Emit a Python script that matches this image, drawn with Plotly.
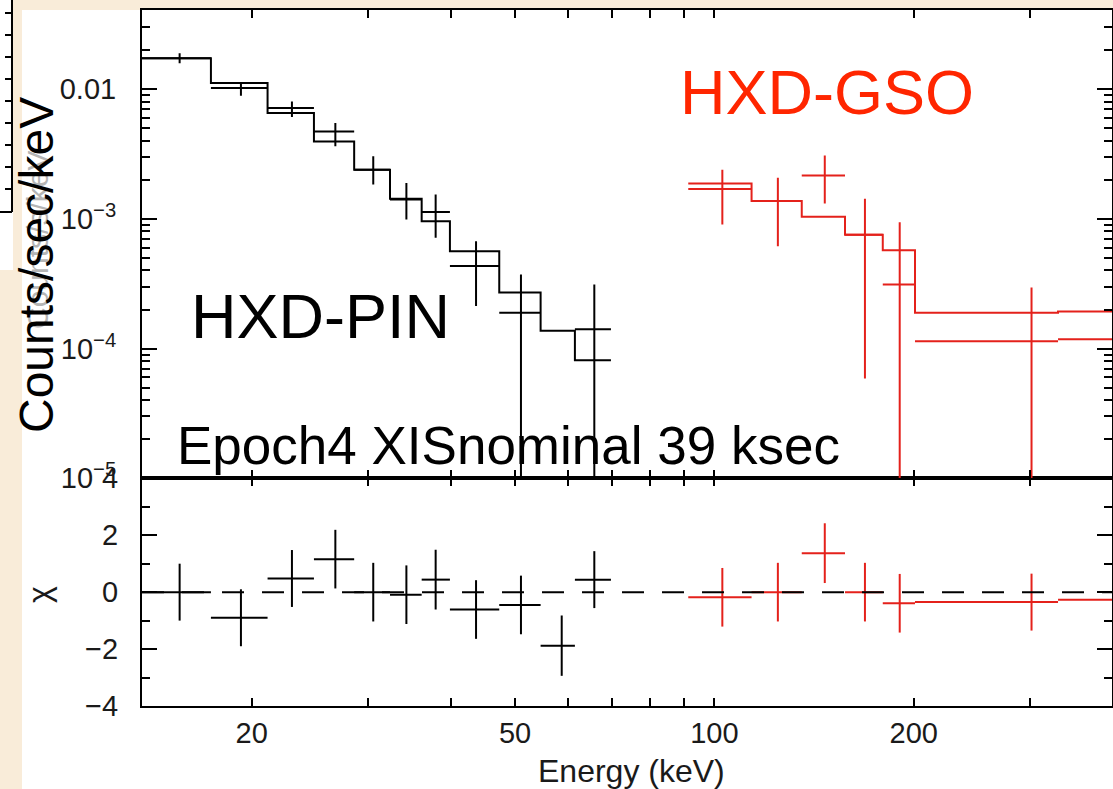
import math
import plotly.graph_objects as go

# ---------------- data ----------------
# HXD-PIN (black): bin centres / edges in keV, counts/s/keV
pin_e      = [15.57, 19.27, 23.01, 26.76, 30.53, 34.26, 37.93, 43.65, 51.03, 58.80, 65.86]
pin_lo     = [13.66, 17.36, 21.14, 24.84, 28.57, 32.36, 36.13, 39.86, 47.32, 54.64, 61.56]
pin_hi     = [17.36, 21.14, 24.84, 28.57, 32.36, 36.13, 39.86, 47.32, 54.64, 61.56, 69.78]
pin_flux   = [0.01732, 0.01018, 0.00714, 0.00472, 0.00239, 0.00141, 0.00113, 0.000432, 0.000189, None, 0.000141]
pin_top    = [0.01891, 0.01112, 0.00803, 0.00548, 0.00303, 0.00189, 0.00154, 0.000673, 0.000373, None, 0.000312]
pin_bot    = [0.01585, 0.00888, 0.00609, 0.00362, 0.00184, 0.000988, 0.000714, 0.000213, 0.0, None, 0.0]
pin_model  = [0.01732, 0.01112, 0.00654, 0.00395, 0.00239, 0.00143, 0.000958, 0.000563, 0.000270, 0.000137, 0.0000813]
pin_chi    = [0.0, -0.90, 0.48, 1.16, 0.0, -0.09, 0.44, -0.61, -0.45, -1.88, 0.44]
pin_chi_err = [1.0, 1.0, 1.0, 1.03, 1.03, 1.03, 1.05, 1.03, 1.03, 1.06, 1.0]

# HXD-GSO (red)
gso_e      = [102.8, 124.7, 146.8, 168.8, 190.5, 301.3, 450.0]
gso_lo     = [91.31, 113.8, 135.5, 157.5, 179.6, 200.9, 330.4]
gso_hi     = [113.8, 135.5, 157.5, 179.6, 200.9, 330.4, 600.0]
gso_flux   = [0.00170, 0.00137, 0.00216, 0.000753, 0.000312, 0.000114, 0.000118]
gso_top    = [0.00239, 0.00207, 0.00307, 0.00143, 0.000941, 0.000296, 0.000300]
gso_bot    = [0.000904, 0.000615, 0.00131, 0.0000588, 0.0, 0.0, 0.0]
gso_model  = [0.00187, 0.00137, 0.001036, 0.000753, 0.000573, 0.000189, 0.000193]
gso_chi    = [-0.18, 0.0, 1.37, 0.0, -0.39, -0.35, -0.27]
gso_chi_err = [1.03, 1.03, 1.05, 1.03, 1.03, 1.0, 1.0]

# axes / ticks
x_range_kev = [13.66, 398.6]
x_tick_vals = [20, 50, 100, 200]
x_tick_text = ["20", "50", "100", "200"]
x_minor_vals = [30, 40, 60, 70, 80, 90, 300]
y_range_flux = [1e-5, 0.0407]
y_tick_vals = [0.01, 1e-3, 1e-4, 1e-5]
y_tick_text = ["0.01", "10<sup>\u22123</sup>", "10<sup>\u22124</sup>", "10<sup>\u22125</sup>"]
chi_range = [-4, 4]
chi_tick_vals = [-4, -2, 0, 2, 4]
chi_tick_text = ["\u22124", "\u22122", "0", "2", "4"]
chi_minor_vals = [-3, -1, 1, 3]

# ---------------- styling ----------------
W, H = 1113, 789
L, R, T, B = 142, 1, 10, 83
PW, PH = W - L - R, H - T - B
SPLIT_PX = 478.3
BLACK = "#000000"
RED = "#e4211b"
TXT_RED = "#ff2600"
BEIGE = "#f9ecd9"
FONT = "Liberation Sans, Arial, Helvetica, sans-serif"


def px(xp):
    return (xp - L) / PW


def py(yp):
    return (T + PH - yp) / PH


split = py(SPLIT_PX)
LOW = 1e-9


def errs(center, top, bot):
    plus, minus = [], []
    for c, t, b in zip(center, top, bot):
        plus.append(t - c)
        minus.append(c - max(b, LOW))
    return plus, minus


def keep(*cols):
    idx = [i for i, v in enumerate(cols[0]) if v is not None]
    return [[c[i] for i in idx] for c in cols]


fig = go.Figure()

# ---- upper panel: spectra ----
for (e, lo, hi, fl, tp, bt, model, col) in [
    (pin_e, pin_lo, pin_hi, pin_flux, pin_top, pin_bot, pin_model, BLACK),
    (gso_e, gso_lo, gso_hi, gso_flux, gso_top, gso_bot, gso_model, RED),
]:
    fl_k, e_k, lo_k, hi_k, tp_k, bt_k = keep(fl, e, lo, hi, tp, bt)
    yp, ym = errs(fl_k, tp_k, bt_k)
    fig.add_trace(go.Scatter(
        x=e_k, y=fl_k, mode="markers", xaxis="x2", yaxis="y2",
        marker=dict(size=1, color=col),
        error_x=dict(type="data", symmetric=False,
                     array=[h - c for h, c in zip(hi_k, e_k)],
                     arrayminus=[c - l for c, l in zip(e_k, lo_k)],
                     color=col, thickness=2, width=0),
        error_y=dict(type="data", symmetric=False, array=yp, arrayminus=ym,
                     color=col, thickness=2, width=0),
        showlegend=False, hoverinfo="skip"))
    fig.add_trace(go.Scatter(
        x=lo + [hi[-1]], y=model + [model[-1]], mode="lines", xaxis="x2", yaxis="y2",
        line=dict(color=col, width=2, shape="hv"),
        showlegend=False, hoverinfo="skip"))

# ---- lower panel: residuals ----
for (e, lo, hi, chi, ce, col) in [
    (pin_e, pin_lo, pin_hi, pin_chi, pin_chi_err, BLACK),
    (gso_e, gso_lo, gso_hi, gso_chi, gso_chi_err, RED),
]:
    fig.add_trace(go.Scatter(
        x=e, y=chi, mode="markers", xaxis="x", yaxis="y",
        marker=dict(size=1, color=col),
        error_x=dict(type="data", symmetric=False,
                     array=[h - c for h, c in zip(hi, e)],
                     arrayminus=[c - l for c, l in zip(e, lo)],
                     color=col, thickness=2, width=0),
        error_y=dict(type="data", array=ce, color=col, thickness=2, width=0),
        showlegend=False, hoverinfo="skip"))

xr = [math.log10(v) for v in x_range_kev]
yr = [math.log10(v) for v in y_range_flux]

y_minor = []
for dec in range(-5, -1):
    for m in range(2, 10):
        v = m * 10 ** dec
        if v < y_range_flux[1]:
            y_minor.append(v)

tickfont = dict(family=FONT, size=29, color="#1a1a1a")
frame = dict(showline=True, linecolor=BLACK, linewidth=2, mirror="allticks",
             ticks="inside", tickcolor=BLACK, tickwidth=2, showgrid=False, zeroline=False,
             automargin=False)
minor_style = dict(ticklen=8, tickwidth=2, ticks="inside", tickcolor=BLACK)

fig.update_layout(
    template="none",
    width=W, height=H,
    margin=dict(l=L, r=R, t=T, b=B, pad=0, autoexpand=False),
    paper_bgcolor=BEIGE, plot_bgcolor="white",
    font=dict(family=FONT, color="#1a1a1a"),
    xaxis=dict(domain=[0, 1], anchor="y", type="log", range=xr,
               tickvals=x_tick_vals, ticktext=x_tick_text, ticklen=8,
               minor=dict(tickvals=x_minor_vals, **minor_style),
               tickfont=tickfont, ticklabelstandoff=0, **frame),
    xaxis2=dict(domain=[0, 1], anchor="y2", type="log", range=xr, matches="x",
                tickvals=x_tick_vals, ticklen=8, showticklabels=False,
                minor=dict(tickvals=x_minor_vals, **minor_style),
                **frame),
    xaxis3=dict(overlaying="x", anchor="y", type="log", range=xr, tickvals=[100], ticklen=16,
                showticklabels=False, showline=False, mirror="allticks", ticks="inside",
                tickcolor=BLACK, tickwidth=2, showgrid=False, zeroline=False, automargin=False),
    xaxis4=dict(overlaying="x2", anchor="y2", type="log", range=xr, tickvals=[100], ticklen=16,
                showticklabels=False, showline=False, mirror="allticks", ticks="inside",
                tickcolor=BLACK, tickwidth=2, showgrid=False, zeroline=False, automargin=False),
    yaxis=dict(domain=[0, split], anchor="x", range=chi_range,
               tickvals=chi_tick_vals, ticktext=chi_tick_text, ticklen=15,
               minor=dict(tickvals=chi_minor_vals, **minor_style),
               tickfont=tickfont, ticklabelstandoff=16, **frame),
    yaxis2=dict(domain=[split, 1], anchor="x2", type="log", range=yr,
                tickvals=y_tick_vals, ticktext=y_tick_text, ticklen=15,
                minor=dict(tickvals=y_minor, **minor_style),
                tickfont=tickfont, ticklabelstandoff=18, **frame),
)

# background pieces of the slide
shapes = [
    dict(type="rect", xref="paper", yref="paper", x0=px(22), x1=px(1113), y0=py(789), y1=py(10),
         fillcolor="white", line=dict(width=0), layer="below"),
    dict(type="rect", xref="paper", yref="paper", x0=px(0), x1=px(13), y0=py(270), y1=py(0),
         fillcolor="white", line=dict(width=0), layer="below"),
    dict(type="line", xref="paper", yref="paper", x0=px(12), x1=px(12), y0=py(212), y1=py(0),
         line=dict(color=BLACK, width=2), layer="below"),
    dict(type="line", xref="paper", yref="paper", x0=px(0), x1=px(12), y0=py(212), y1=py(212),
         line=dict(color=BLACK, width=2), layer="below"),
    dict(type="line", xref="x domain", yref="y", x0=0, x1=1, y0=0, y1=0,
         line=dict(color=BLACK, width=2, dash="22px,18px")),
]
for k in range(9):
    yy = 13 + 22 * k
    shapes.append(dict(type="line", xref="paper", yref="paper", x0=px(5), x1=px(12), y0=py(yy), y1=py(yy),
                       line=dict(color=BLACK, width=2), layer="below"))
fig.update_layout(shapes=shapes)

ann = [
    dict(text="Counts/s/keV", x=px(37), y=py(240), textangle=-90,
         font=dict(family=FONT, size=30, color="#b5b5b5")),
    dict(text="Counts/sec/keV", x=px(36), y=py(265), textangle=-90,
         font=dict(family=FONT, size=48, color=BLACK)),
    dict(text="\u03c7", x=px(39), y=py(595), textangle=-90,
         font=dict(family=FONT, size=32, color="#1a1a1a")),
    dict(text="Energy (keV)", x=px(631.5), y=py(771),
         font=dict(family=FONT, size=32, color="#1a1a1a")),
    dict(text="HXD-GSO", x=px(826.7), y=py(92),
         font=dict(family=FONT, size=63, color=TXT_RED)),
    dict(text="HXD-PIN", x=px(320.5), y=py(316),
         font=dict(family=FONT, size=63, color=BLACK)),
    dict(text="Epoch4 XISnominal 39 ksec", x=px(508.4), y=py(445),
         font=dict(family=FONT, size=53, color=BLACK)),
]
for a in ann:
    a.update(xref="paper", yref="paper", showarrow=False, xanchor="center", yanchor="middle")
fig.update_layout(annotations=ann)

fig.write_html("out.html")
